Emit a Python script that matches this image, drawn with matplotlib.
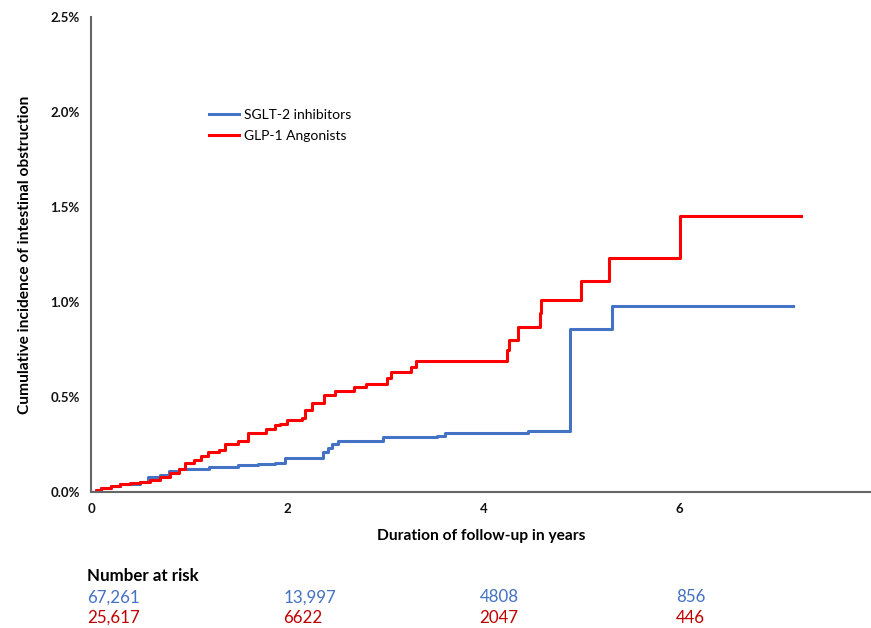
import numpy as np
import matplotlib as mpl
from matplotlib import pyplot as plt

mpl.rcParams['font.family'] = ['Lato', 'DejaVu Sans']
mpl.rcParams['axes.spines.right'] = False
mpl.rcParams['axes.spines.top'] = False

# step curves (years, cumulative incidence in %)
sglt2_t = [0, 0.05, 0.1, 0.2, 0.3, 0.5, 0.58, 0.7, 0.79, 0.9, 1.2, 1.5, 1.7, 1.88, 1.98,
           2.36, 2.42, 2.46, 2.52, 2.98, 3.53, 3.61, 4.45, 4.88, 5.31, 7.15]
sglt2_y = [0, 0.01, 0.02, 0.03, 0.04, 0.05, 0.08, 0.09, 0.11, 0.12, 0.13, 0.14, 0.145, 0.15, 0.18,
           0.21, 0.23, 0.25, 0.27, 0.29, 0.295, 0.31, 0.32, 0.86, 0.98, 0.98]

glp1_t = [0, 0.05, 0.1, 0.2, 0.3, 0.4, 0.5, 0.6, 0.7, 0.8, 0.9, 0.96, 1.05, 1.12, 1.19, 1.3, 1.37,
          1.5, 1.6, 1.78, 1.88, 1.93, 2.0, 2.15, 2.18, 2.25, 2.37, 2.49, 2.68, 2.8, 3.02, 3.06,
          3.26, 3.31, 4.24, 4.26, 4.35, 4.58, 4.59, 4.99, 5.28, 6.0, 7.24]
glp1_y = [0, 0.01, 0.02, 0.03, 0.04, 0.045, 0.05, 0.065, 0.08, 0.10, 0.12, 0.15, 0.17, 0.19, 0.21,
          0.22, 0.25, 0.27, 0.31, 0.33, 0.35, 0.36, 0.38, 0.39, 0.43, 0.47, 0.51, 0.53, 0.55, 0.57,
          0.60, 0.63, 0.66, 0.69, 0.745, 0.80, 0.87, 0.94, 1.01, 1.11, 1.23, 1.455, 1.455]

risk_times = [0, 2, 4, 6]
sglt2_risk = ['67,261', '13,997', '4808', '856']
glp1_risk = ['25,617', '6622', '2047', '446']

blue = '#4472C4'
red = '#FF0000'
red_text = '#C00000'

fig = plt.figure(figsize=(8.71, 6.28), dpi=100)
ax = fig.add_axes([0.1045, 0.2166, 0.8955, 0.7564])

ax.step(sglt2_t, np.array(sglt2_y) / 100, where='post', color=blue, lw=2.2, label='SGLT-2 inhibitors')
ax.step(glp1_t, np.array(glp1_y) / 100, where='post', color=red, lw=2.2, label='GLP-1 Angonists')

ax.set_xlim(0, 7.95)
ax.set_ylim(0, 0.025)
ax.set_xticks([0, 2, 4, 6])
ax.set_yticks(np.arange(0, 0.0251, 0.005))
ax.yaxis.set_major_formatter(mpl.ticker.PercentFormatter(1.0, decimals=1))
ax.tick_params(length=0, labelsize=9.5, pad=8)
for lab in ax.get_xticklabels() + ax.get_yticklabels():
    lab.set_fontweight('bold')
    lab.set_color('#111111')
for s in ['left', 'bottom']:
    ax.spines[s].set_color('#666666')
    ax.spines[s].set_linewidth(1.5)

ax.set_xlabel('Duration of follow-up in years', fontsize=11.2, fontweight='bold', labelpad=10)
ax.set_ylabel('Cumulative incidence of intestinal obstruction', fontsize=11.2, fontweight='bold', labelpad=13)

ax.legend(loc='upper left', bbox_to_anchor=(0.135, 0.832), frameon=False, fontsize=10,
          handlelength=2.2, handletextpad=0.3, labelspacing=0.6)

# number at risk table
trans = ax.get_xaxis_transform()
ax.text(-0.04, -0.176, 'Number at risk', transform=trans, fontsize=12.2, fontweight='bold',
        va='center', ha='left')
for t, a, b in zip(risk_times, sglt2_risk, glp1_risk):
    ax.text(t - 0.04, -0.222, a, transform=trans, fontsize=12.2, color=blue, va='center', ha='left')
    ax.text(t - 0.04, -0.265, b, transform=trans, fontsize=12.2, color=red_text, va='center', ha='left')

fig.savefig('out.png', dpi=100)
